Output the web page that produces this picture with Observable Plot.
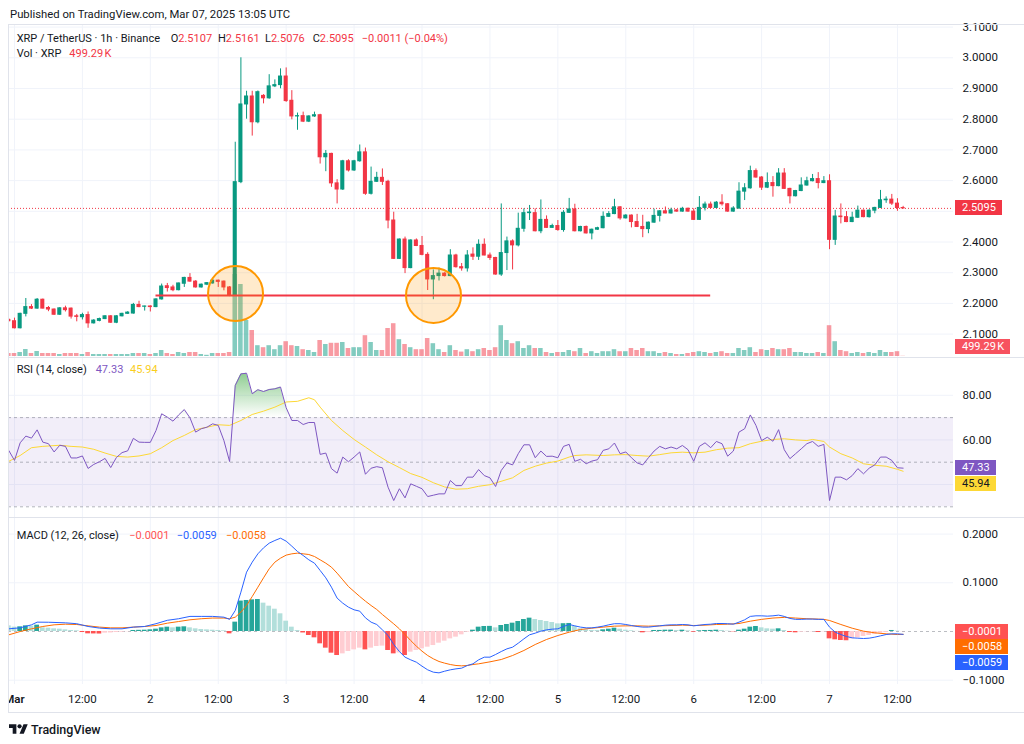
<!DOCTYPE html>
<html><head><meta charset="utf-8">
<script src="https://cdn.jsdelivr.net/npm/d3@7"></script>
<script src="https://cdn.jsdelivr.net/npm/@observablehq/plot@0.6"></script>
<style>
body{margin:0;background:#fff;}
#root{position:relative;width:1024px;height:744px;overflow:hidden;background:#fff;font-family:Roboto,"Noto Sans",sans-serif;color:#131722;}
.t{position:absolute;white-space:nowrap;font-size:11px;line-height:11px;}
.box{position:absolute;left:955px;height:15px;line-height:15px;font-size:11px;padding:0 6px 0 7px;color:#fff;white-space:nowrap;}
.ln{position:absolute;background:#E0E3EB;}
</style></head><body><div id="root"></div>
<script>
// ---------- DATA (hour 0 = Mar 1 2025 00:00 UTC, hourly candles XRP/USDT Binance) ----------
const firstHour = -1;
const opens = [
2.146,2.142,2.119,2.166,2.188,2.183,2.212,2.185,2.180,2.163,
2.184,2.183,2.158,2.155,2.162,2.135,2.143,2.149,2.158,2.137,
2.158,2.166,2.167,2.195,2.189,2.190,2.188,2.213,2.256,2.252,
2.243,2.264,2.283,2.271,2.252,2.261,2.265,2.274,2.271,2.252,
2.226,2.595,2.848,2.874,2.790,2.876,2.868,2.907,2.911,2.939,
2.860,2.809,2.810,2.792,2.809,2.813,2.676,2.687,2.591,2.571,
2.663,2.633,2.663,2.692,2.557,2.596,2.609,2.596,2.470,2.345,
2.408,2.315,2.405,2.387,2.358,2.278,2.289,2.297,2.289,2.356,
2.318,2.314,2.359,2.352,2.391,2.356,2.348,2.294,2.364,2.402,
2.389,2.443,2.494,2.494,2.435,2.472,2.446,2.452,2.439,2.495,
2.506,2.435,2.449,2.428,2.440,2.445,2.482,2.491,2.513,2.477,
2.486,2.465,2.449,2.442,2.463,2.485,2.500,2.493,2.503,2.499,
2.508,2.499,2.472,2.511,2.522,2.511,2.528,2.523,2.499,2.509,
2.564,2.575,2.631,2.610,2.577,2.592,2.582,2.623,2.573,2.549,
2.566,2.584,2.598,2.605,2.592,2.598,2.407,2.483,2.481,2.465,
2.479,2.502,2.481,2.502,2.511,2.536,2.538,2.525,2.5107];
const highs = [
2.150,2.152,2.168,2.216,2.196,2.216,2.214,2.190,2.182,2.186,
2.191,2.185,2.164,2.168,2.172,2.147,2.152,2.160,2.160,2.160,
2.168,2.173,2.200,2.207,2.191,2.192,2.215,2.263,2.265,2.259,
2.266,2.285,2.297,2.274,2.263,2.268,2.278,2.276,2.273,2.255,
2.725,3.000,2.891,2.891,2.892,2.880,2.945,2.928,2.964,2.967,
2.893,2.820,2.823,2.811,2.823,2.816,2.698,2.689,2.603,2.666,
2.668,2.666,2.716,2.706,2.644,2.627,2.638,2.601,2.497,2.410,
2.416,2.407,2.410,2.418,2.365,2.309,2.315,2.300,2.375,2.360,
2.330,2.372,2.381,2.407,2.410,2.364,2.350,2.524,2.416,2.407,
2.494,2.508,2.519,2.508,2.537,2.485,2.458,2.470,2.502,2.542,
2.523,2.451,2.452,2.442,2.448,2.498,2.499,2.539,2.515,2.489,
2.488,2.490,2.487,2.465,2.507,2.502,2.514,2.510,2.506,2.513,
2.511,2.508,2.548,2.530,2.530,2.532,2.554,2.525,2.515,2.593,
2.590,2.647,2.638,2.613,2.625,2.613,2.639,2.639,2.575,2.568,
2.609,2.611,2.620,2.626,2.613,2.619,2.503,2.524,2.499,2.497,
2.517,2.504,2.505,2.513,2.568,2.547,2.555,2.541,2.5161];
const lows = [
2.140,2.117,2.117,2.156,2.180,2.181,2.182,2.173,2.161,2.161,
2.172,2.149,2.140,2.146,2.119,2.133,2.140,2.147,2.135,2.134,
2.156,2.164,2.165,2.186,2.175,2.172,2.186,2.211,2.237,2.238,
2.241,2.252,2.269,2.250,2.250,2.258,2.263,2.252,2.241,2.222,
2.224,2.590,2.800,2.745,2.785,2.850,2.865,2.903,2.899,2.855,
2.798,2.764,2.789,2.789,2.806,2.654,2.629,2.578,2.524,2.568,
2.628,2.630,2.660,2.552,2.553,2.594,2.584,2.443,2.343,2.343,
2.297,2.313,2.385,2.355,2.242,2.212,2.273,2.286,2.287,2.315,
2.305,2.302,2.340,2.340,2.355,2.340,2.292,2.288,2.307,2.309,
2.384,2.432,2.470,2.433,2.427,2.444,2.444,2.435,2.432,2.493,
2.433,2.433,2.426,2.407,2.438,2.443,2.480,2.489,2.471,2.475,
2.446,2.447,2.414,2.427,2.461,2.465,2.492,2.491,2.497,2.497,
2.497,2.470,2.470,2.501,2.509,2.509,2.517,2.497,2.497,2.507,
2.535,2.572,2.608,2.568,2.574,2.546,2.580,2.571,2.524,2.547,
2.564,2.582,2.596,2.573,2.590,2.375,2.389,2.459,2.463,2.463,
2.477,2.479,2.478,2.492,2.509,2.526,2.519,2.500,2.5076];
const closes = [
2.142,2.119,2.166,2.188,2.183,2.212,2.183,2.180,2.163,2.184,
2.178,2.157,2.156,2.162,2.135,2.144,2.149,2.158,2.137,2.158,
2.166,2.170,2.195,2.188,2.190,2.188,2.213,2.255,2.250,2.243,
2.265,2.283,2.271,2.252,2.261,2.266,2.274,2.270,2.252,2.226,
2.595,2.848,2.874,2.790,2.888,2.868,2.907,2.911,2.939,2.859,
2.809,2.810,2.792,2.809,2.813,2.676,2.687,2.591,2.571,2.663,
2.633,2.663,2.692,2.557,2.596,2.609,2.596,2.470,2.345,2.408,
2.315,2.405,2.387,2.358,2.278,2.289,2.297,2.289,2.356,2.318,
2.314,2.356,2.352,2.391,2.356,2.348,2.294,2.364,2.402,2.389,
2.443,2.494,2.496,2.435,2.472,2.446,2.452,2.439,2.495,2.506,
2.435,2.449,2.428,2.440,2.445,2.482,2.491,2.513,2.477,2.486,
2.465,2.449,2.442,2.463,2.485,2.500,2.493,2.503,2.499,2.508,
2.499,2.472,2.511,2.522,2.511,2.528,2.523,2.499,2.509,2.564,
2.575,2.631,2.610,2.577,2.592,2.582,2.623,2.573,2.549,2.566,
2.584,2.598,2.605,2.592,2.598,2.407,2.483,2.481,2.465,2.479,
2.502,2.481,2.502,2.511,2.536,2.538,2.525,2.5107,2.5095];
// volume in millions of XRP
const volumes = [
7.5,7.5,10,17.5,7.5,12.5,7.5,7.5,7.5,5,
7.5,7.5,7.5,5,10,5,5,5,5,5,
5,5,7.5,7.5,7.5,5,7.5,15,7.5,5,
10,7.5,10,10,5,3,7.5,7.5,7.5,10,
205,180,90,65,27,22,27,17,27,37,
27,25,17,15,10,40,30,33,33,35,
20,22,22,52,35,15,15,70,82,42,
30,22,17,17,45,32,17,10,27,15,
11,17,12,17,20,15,22,77,40,32,
37,20,27,20,20,10,7.5,10,10,15,
12,20,7.5,12,7.5,12,12,17,12,12,
20,15,20,12,12,7.5,10,7.5,5,5,
7.5,10,12,10,7.5,10,12,7.5,7.5,20,
15,22,10,17,15,20,17,17,20,10,
10,7.5,7.5,10,7.5,77,37,15,12,7.5,
10,7.5,10,7.5,15,10,10,12,0.49929];
const rsiValues = [
55.2,50.8,58.7,61.7,60.8,64.5,59.0,58.3,54.6,57.6,
57.1,51.9,51.9,52.8,47.2,49.0,50.2,51.7,47.6,52.1,
54.3,55.1,60.7,59.0,58.9,58.9,64.2,71.7,70.2,68.4,
71.2,73.6,69.9,63.5,65.0,65.7,67.2,66.5,59.7,50.3,
84.4,89.6,89.9,80.7,82.5,81.7,82.6,82.9,83.7,74.4,
68.7,68.7,66.9,67.8,67.8,53.5,54.1,47.1,45.1,52.3,
50.2,52.3,54.6,44.6,47.3,48.0,47.5,38.8,32.8,38.1,
34.0,40.3,39.2,38.1,34.6,35.2,35.8,35.8,41.8,39.5,
39.5,43.3,43.3,46.7,44.0,43.0,39.1,46.3,49.7,48.8,
53.8,57.8,57.8,52.0,55.0,52.6,52.7,52.0,57.1,58.0,
50.4,51.3,49.3,50.5,51.1,55.3,56.0,58.6,53.8,54.6,
52.0,49.7,48.8,52.0,55.0,57.1,56.0,56.8,56.0,57.5,
55.6,50.4,57.1,58.7,56.5,59.3,58.3,52.7,55.0,63.5,
65.0,71.2,66.5,59.7,61.2,59.4,64.6,55.6,51.6,53.8,
56.0,58.3,59.3,57.1,58.0,32.8,43.3,43.3,42.1,44.0,
47.1,44.8,47.3,48.8,52.3,52.3,50.8,47.5,47.33];
const rsiMaHours = [-1,1,3,5,8,10,12,14,16,18,20,22,24,26,28,30,32,34,36,38,40,42,44,46,48,50,52,53,54,56,58,60,62,64,66,68,70,72,74,76,78,80,82,84,88,90,92,94,96,98,99,101,104,106,108,110,112,114,116,118,120,122,124,126,128,130,132,134,136,138,140,141,143,144,146,148,150,152,154,156,157];
const rsiMaValues = [50.4,53.0,56.5,57.1,57.6,57.1,56.8,55.8,54.1,52.6,52.3,52.8,53.8,56.5,59.7,62.0,64.6,65.7,66.8,66.5,68.7,71.4,72.9,74.7,77.0,77.3,78.9,78.0,74.7,68.7,64.2,60.2,56.8,53.3,50.2,47.6,44.9,43.2,40.8,38.9,37.9,38.1,39.2,39.9,43.0,46.3,48.2,49.6,50.5,52.3,53.0,53.3,53.0,53.3,53.4,53.0,52.7,53.4,54.2,54.5,54.2,54.5,55.6,56.3,56.5,58.3,59.4,60.2,60.5,60.0,59.7,60.2,59.3,56.8,53.8,51.9,49.3,48.6,48.2,46.8,45.94];
// null = not read at that hour (line joins the read points)
const macdValues = [
0.0055,null,0.0075,null,0.0137,0.0192,null,0.0190,null,null,
0.0178,null,0.0160,null,0.0103,null,0.0070,null,0.0055,null,
0.0055,null,0.0090,null,0.0103,null,0.0160,null,0.0230,null,
0.0262,null,0.0310,null,0.0310,null,0.0310,null,0.0294,0.0249,
0.0431,0.0808,0.1218,0.1424,0.1595,0.1718,0.1814,0.1869,0.1916,0.1855,
0.1752,0.1643,0.1561,0.1472,0.1403,0.1253,0.1102,0.0910,0.0685,0.0582,
0.0500,0.0445,0.0418,0.0281,0.0192,0.0144,0.0034,-0.0082,-0.0267,-0.0411,
-0.0527,-0.0582,-0.0630,-0.0712,-0.0787,-0.0835,-0.0849,-0.0815,-0.0787,-0.0767,
-0.0753,-0.0698,-0.0664,-0.0582,-0.0527,-0.0527,-0.0472,-0.0411,-0.0356,-0.0322,
-0.0240,-0.0151,-0.0068,-0.0034,0.0007,0.0034,0.0048,0.0055,0.0103,0.0144,
0.0116,0.0090,0.0075,0.0075,0.0090,0.0110,0.0137,0.0160,0.0160,0.0144,
0.0123,0.0103,0.0090,0.0090,0.0103,0.0116,0.0130,0.0137,0.0137,0.0144,
0.0137,0.0116,0.0130,0.0144,0.0150,0.0164,0.0164,0.0160,0.0150,0.0192,
0.0240,0.0310,0.0322,0.0322,0.0315,0.0322,0.0336,0.0310,0.0268,0.0249,
0.0249,0.0255,0.0255,0.0249,0.0249,0.0090,-0.0014,-0.0062,-0.0103,-0.0130,
-0.0137,-0.0144,-0.0137,-0.0116,-0.0089,-0.0062,-0.0048,-0.0048,-0.0059];
const signalValues = [
-0.0068,null,0.0000,null,0.0055,null,0.0103,null,0.0137,null,
0.0150,null,0.0144,null,0.0116,null,0.0090,null,0.0075,null,
0.0075,null,0.0090,null,0.0103,null,0.0123,null,0.0171,null,
0.0205,null,0.0240,null,0.0262,null,0.0276,null,0.0276,0.0262,
0.0294,0.0397,0.0534,0.0719,0.0910,0.1102,0.1287,0.1424,0.1506,0.1568,
0.1595,0.1609,0.1595,0.1581,0.1540,0.1472,0.1403,0.1321,0.1198,0.1061,
0.0924,0.0821,0.0719,0.0623,0.0534,0.0452,0.0349,0.0253,0.0157,0.0055,
-0.0062,-0.0185,-0.0301,-0.0404,-0.0493,-0.0561,-0.0616,-0.0650,-0.0678,-0.0698,
-0.0705,-0.0698,-0.0678,-0.0664,null,-0.0623,null,-0.0575,null,-0.0493,
null,-0.0390,null,-0.0267,null,-0.0164,null,-0.0082,null,-0.0014,
null,0.0041,null,0.0068,null,0.0090,null,0.0110,null,0.0116,
null,0.0116,null,0.0110,null,0.0116,null,0.0123,null,0.0130,
null,0.0123,null,0.0130,null,0.0144,null,0.0150,null,0.0164,
null,0.0212,null,0.0249,null,0.0276,null,0.0290,null,0.0276,
null,0.0262,null,0.0255,0.0249,0.0226,null,0.0144,null,0.0068,
null,0.0007,null,-0.0027,null,-0.0048,null,-0.0062,-0.0058];
const histValues = [
0.0116,0.0089,0.0096,0.0116,0.0110,0.0130,0.0075,0.0068,0.0055,0.0048,
0.0034,0.0021,0.0014,-0.0021,-0.0048,-0.0050,-0.0052,-0.0034,-0.0030,-0.0021,
-0.0014,-0.0005,0.0021,0.0024,0.0027,0.0034,0.0048,0.0075,0.0089,0.0075,
0.0089,0.0096,0.0075,0.0055,0.0041,0.0034,0.0027,0.0021,0.0014,-0.0048,
0.0192,0.0625,0.0637,0.0650,0.0657,0.0582,0.0520,0.0458,0.0363,0.0212,
0.0089,0.0020,-0.0030,-0.0082,-0.0130,-0.0253,-0.0342,-0.0445,-0.0493,-0.0459,
-0.0411,-0.0377,-0.0342,-0.0377,-0.0342,-0.0308,-0.0300,-0.0390,-0.0459,-0.0440,
-0.0493,-0.0424,-0.0390,-0.0356,-0.0322,-0.0288,-0.0240,-0.0199,-0.0151,-0.0116,
-0.0068,-0.0014,0.0027,0.0089,0.0103,0.0105,0.0075,0.0123,0.0144,0.0171,
0.0205,0.0246,0.0274,0.0246,0.0226,0.0205,0.0185,0.0157,0.0160,0.0165,
0.0103,0.0055,0.0034,0.0021,0.0020,0.0034,0.0048,0.0068,0.0048,0.0027,
0.0014,0.0003,-0.0027,-0.0021,0.0021,0.0022,0.0027,0.0028,0.0021,0.0027,
0.0014,-0.0014,0.0014,0.0021,0.0022,0.0027,0.0021,0.0007,-0.0007,0.0027,
0.0048,0.0089,0.0103,0.0075,0.0055,0.0048,0.0055,0.0021,-0.0021,-0.0027,
-0.0014,-0.0007,-0.0007,-0.0021,-0.0007,-0.0151,-0.0171,-0.0185,-0.0190,-0.0151,
-0.0130,-0.0103,-0.0082,-0.0062,-0.0034,-0.0021,0.0021,0.0007,-0.0001];
const xTickHours = [0,12,24,36,48,60,72,84,96,108,120,132,144,156];
const xTickLabels = ["Mar","12:00","2","12:00","3","12:00","4","12:00","5","12:00","6","12:00","7","12:00"];
const priceTicks = [2.1,2.2,2.3,2.4,2.5,2.6,2.7,2.8,2.9,3.0,3.1];
const priceTickLabels = [2.1,2.2,2.3,2.4,2.6,2.7,2.8,2.9,3.0,3.1]; // 2.5 hidden by last-price tag
const rsiTicks = [40,60,80];
const rsiTickLabels = [60,80];               // 40 hidden by MA tag
const rsiLevels = [30,50,70];
const macdTicks = [-0.1,0.1,0.2];
const macdZero = [0];
const levelLine = [{h1:25,h2:123,p:2.226}];
const markers = [{h:39.05,p:2.232},{h:74.03,p:2.226}];

// ---------- STYLE / LAYOUT ----------
const UP="#089981", DOWN="#F23645";
const VUP="rgba(8,153,129,0.5)", VDOWN="rgba(242,54,69,0.5)";
const GRID="#F0F3FA";
const FONT='Roboto, "Noto Sans", sans-serif';
const SVG_W=1016, AXIS_W=71, LEFT=8;
const xDomain=[-1.06,165.9];
const root=document.getElementById("root");
const NS="http://www.w3.org/2000/svg";

const candles=opens.map((o,i)=>({h:i+firstHour,o,hi:highs[i],lo:lows[i],c:closes[i],v:volumes[i]}));
const rsiData=rsiValues.map((v,i)=>({h:i+firstHour,v}));
const rsiMa=rsiMaHours.map((h,i)=>({h,v:rsiMaValues[i]}));
const macdData=macdValues.map((v,i)=>({h:i+firstHour,v})).filter(d=>d.v!==null);
const sigData=signalValues.map((v,i)=>({h:i+firstHour,v})).filter(d=>d.v!==null);
const histData=histValues.map((v,i)=>({h:i+firstHour,v,p:i>0?histValues[i-1]:v}));
const histColor=d=>d.v>=0?(d.v>d.p?"#26A69A":"#B2DFDB"):(d.v<d.p?"#FF5252":"#FFCDD2");
const lastClose=closes[closes.length-1];

const baseStyle={fontFamily:FONT,fontSize:"11.5px",color:"#131722",background:"transparent"};
function put(svg,top){svg.style.position="absolute";svg.style.left=LEFT+"px";svg.style.top=top+"px";svg.style.maxWidth="none";root.appendChild(svg);return svg;}
const fmtSigned=(d,n)=>(d<0?"\u2212":"")+Math.abs(d).toFixed(n);

// price pane: grid + axis
const PRICE_TOP=24, PRICE_H=333;
const priceDomain=[2.9-(PRICE_H-64)/307, 2.9+64/307];
const priceAxis=put(Plot.plot({
  width:SVG_W,height:PRICE_H,marginLeft:0,marginRight:AXIS_W,marginTop:0,marginBottom:0,
  style:{...baseStyle,overflow:"visible"},
  x:{domain:xDomain,axis:null},
  y:{domain:priceDomain,axis:"right",ticks:priceTickLabels,tickFormat:d=>d.toFixed(4),tickSize:0,tickPadding:9,label:null},
  marks:[Plot.ruleY(priceTicks,{stroke:GRID}),Plot.ruleX(xTickHours,{stroke:GRID})]
}),PRICE_TOP);

// volume overlay
const VOL_H=332;
const volPlot=put(Plot.plot({
  width:SVG_W,height:VOL_H,marginLeft:0,marginRight:AXIS_W,marginTop:0,marginBottom:0,
  style:baseStyle,
  x:{domain:xDomain,axis:null},
  y:{domain:[0,VOL_H*2.5],axis:null},
  marks:[Plot.rect(candles,{x1:d=>d.h-0.4,x2:d=>d.h+0.4,y1:0,y2:"v",fill:d=>d.c>=d.o?VUP:VDOWN})]
}),PRICE_TOP);

// candles + drawings
const pricePlot=put(Plot.plot({
  width:SVG_W,height:PRICE_H,marginLeft:0,marginRight:AXIS_W,marginTop:0,marginBottom:0,
  style:baseStyle,
  x:{domain:xDomain,axis:null},
  y:{domain:priceDomain,axis:null},
  marks:[
    Plot.ruleY([lastClose],{stroke:DOWN,strokeDasharray:"1,2",strokeWidth:1}),
    Plot.ruleX(candles,{x:"h",y1:"lo",y2:"hi",stroke:d=>d.c>=d.o?UP:DOWN,strokeWidth:1}),
    Plot.rect(candles,{x1:d=>d.h-0.36,x2:d=>d.h+0.36,y1:"o",y2:"c",fill:d=>d.c>=d.o?UP:DOWN,insetTop:-0.5,insetBottom:-0.5}),
    Plot.ruleY(levelLine,{y:"p",x1:"h1",x2:"h2",stroke:"#F23645",strokeWidth:2}),
    Plot.dot(markers,{x:"h",y:"p",r:27.5,fill:"#FF9800",fillOpacity:0.2,stroke:"#FF9800",strokeWidth:2})
  ]
}),PRICE_TOP);

// RSI pane
const RSI_TOP=358, RSI_H=160;
const rsiDomain=[50-(RSI_H-103.7)/2.23, 50+103.7/2.23];
const rsiPlot=put(Plot.plot({
  width:SVG_W,height:RSI_H,marginLeft:0,marginRight:AXIS_W,marginTop:0,marginBottom:0,
  style:baseStyle,
  x:{domain:xDomain,axis:null},
  y:{domain:rsiDomain,axis:"right",ticks:rsiTickLabels,tickFormat:d=>d.toFixed(2),tickSize:0,tickPadding:9,label:null},
  marks:[
    Plot.ruleY(rsiTicks,{stroke:GRID}),
    Plot.ruleX(xTickHours,{stroke:GRID}),
    Plot.rect([rsiLevels],{x1:xDomain[0],x2:xDomain[1],y1:d=>d[0],y2:d=>d[2],fill:"#7E57C2",fillOpacity:0.1}),
    Plot.ruleY(rsiLevels,{stroke:"#787B86",strokeOpacity:0.55,strokeDasharray:"3,3"}),
    Plot.area(rsiData,{x1:"h",y1:rsiLevels[2],y2:"v",fill:"#4CAF50",fillOpacity:0.5}),
    Plot.line(rsiMa,{x:"h",y:"v",stroke:"#FDD835",strokeWidth:1}),
    Plot.line(rsiData,{x:"h",y:"v",stroke:"#7E57C2",strokeWidth:1})
  ]
}),RSI_TOP);
{
  // overbought gradient fill: clipped to the zone above 70, fading towards the 70 line
  const ry=rsiPlot.scale("y");
  const y70=ry.apply(rsiLevels[2]), y100=ry.apply(100);
  const defs=document.createElementNS(NS,"defs");
  const grad=document.createElementNS(NS,"linearGradient");
  grad.setAttribute("id","obGrad");grad.setAttribute("gradientUnits","userSpaceOnUse");
  grad.setAttribute("x1","0");grad.setAttribute("x2","0");grad.setAttribute("y1",String(y100));grad.setAttribute("y2",String(y70));
  [["0","0.95"],["1","0"]].forEach(([o,a])=>{const s=document.createElementNS(NS,"stop");s.setAttribute("offset",o);s.setAttribute("stop-color","#4CAF50");s.setAttribute("stop-opacity",a);grad.appendChild(s);});
  const cp=document.createElementNS(NS,"clipPath");cp.setAttribute("id","obClip");
  const cr=document.createElementNS(NS,"rect");cr.setAttribute("x","-10");cr.setAttribute("y","-200");cr.setAttribute("width","2000");cr.setAttribute("height",String(y70+200));
  cp.appendChild(cr);defs.appendChild(grad);defs.appendChild(cp);
  rsiPlot.insertBefore(defs,rsiPlot.firstChild);
  const g=rsiPlot.querySelector('g[aria-label="area"]');
  if(g){
    g.setAttribute("clip-path","url(#obClip)");
    g.setAttribute("fill","url(#obGrad)");
    g.removeAttribute("fill-opacity");
    g.querySelectorAll("path").forEach(p=>{p.setAttribute("fill","url(#obGrad)");p.removeAttribute("fill-opacity");});
  }
}

// MACD pane + time axis
const MACD_TOP=518, MACD_H=166, TIME_H=28;
const macdDomain=[(113-MACD_H)/487, 113/487];
const macdPlot=put(Plot.plot({
  width:SVG_W,height:MACD_H+TIME_H,marginLeft:0,marginRight:AXIS_W,marginTop:0,marginBottom:TIME_H,
  style:baseStyle,
  x:{domain:xDomain,ticks:xTickHours,tickFormat:d=>xTickLabels[xTickHours.indexOf(d)],tickSize:0,tickPadding:10,label:null},
  y:{domain:macdDomain,axis:"right",ticks:macdTicks,tickFormat:d=>fmtSigned(d,4),tickSize:0,tickPadding:9,label:null},
  marks:[
    Plot.ruleY(macdTicks,{stroke:GRID}),
    Plot.ruleX(xTickHours,{stroke:GRID}),
    Plot.ruleY(macdZero,{stroke:"#787B86",strokeOpacity:0.5,strokeDasharray:"3,3"}),
    Plot.rect(histData,{x1:d=>d.h-0.42,x2:d=>d.h+0.42,y1:0,y2:"v",fill:histColor}),
    Plot.line(sigData,{x:"h",y:"v",stroke:"#FF6D00",strokeWidth:1}),
    Plot.line(macdData,{x:"h",y:"v",stroke:"#2962FF",strokeWidth:1})
  ]
}),MACD_TOP);
macdPlot.querySelectorAll("text").forEach(t=>{if(t.textContent==="Mar")t.setAttribute("font-weight","600");});

// frame lines
function line(l,t,w,h){const d=document.createElement("div");d.className="ln";Object.assign(d.style,{left:l+"px",top:t+"px",width:w+"px",height:h+"px"});root.appendChild(d);}
line(8,24,1016,1); line(8,24,1,689); line(8,712,1016,1); line(8,357,1016,1); line(8,517,1016,1);

// text helpers
function txt(x,cy,html,extra){const d=document.createElement("div");d.className="t";d.style.left=x+"px";d.style.top=(cy-5.5)+"px";d.innerHTML=html;if(extra)Object.assign(d.style,extra);root.appendChild(d);return d;}
const R='<span style="color:#F23645">';
txt(10,14,'Published on TradingView.com, Mar 07, 2025 13:05 UTC',{fontSize:"11.3px"});
txt(16.7,38.5,'XRP / TetherUS \u00b7 1h \u00b7 Binance');
txt(170.7,38.5,'O'+R+'2.5107</span>');
txt(218,38.5,'H'+R+'2.5161</span>');
txt(265,38.5,'L'+R+'2.5076</span>');
txt(312.7,38.5,'C'+R+'2.5095</span>');
txt(361.7,38.5,R+'\u22120.0011 (\u22120.04%)</span>');
txt(16.7,53.5,'Vol \u00b7 XRP');
txt(69.3,53.5,R+'499.29\u202fK</span>');
txt(16.7,369.5,'RSI (14, close)');
txt(95.7,369.5,'<span style="color:#7E57C2">47.33</span>');
txt(130,369.5,'<span style="color:#F9CE1D">45.94</span>');
txt(16.7,535.5,'MACD (12, 26, close)');
txt(129.3,535.5,'<span style="color:#FF5252">\u22120.0001</span>');
txt(176.7,535.5,'<span style="color:#2962FF">\u22120.0059</span>');
txt(226,535.5,'<span style="color:#FF6D00">\u22120.0058</span>');

// footer logo
const logo=document.createElement("div");
logo.style.cssText="position:absolute;left:9px;top:722px;width:20px;height:14px;";
logo.innerHTML='<svg width="19" height="15" viewBox="0 0 36 28"><path d="M14 22H7V11H0V4h14v18zM28 22h-8l7.5-18h8L28 22z" fill="#131722"/><circle cx="20" cy="8" r="4" fill="#131722"/></svg>';
root.appendChild(logo);
txt(31,729,'TradingView',{fontSize:"12.5px",lineHeight:"13px",top:"722.5px",fontWeight:"500"});

// axis value tags (positions from the plots' scales)
function labels(items,paneBottom){
  items.sort((a,b)=>a.y-b.y);
  let prev=-Infinity;
  for(const it of items){
    let c=Math.max(it.y,prev+15.5);
    c=Math.min(c,paneBottom-11);
    prev=c;
    const d=document.createElement("div");d.className="box";d.textContent=it.text;
    d.style.top=(c-7.5)+"px";d.style.background=it.bg;d.style.color=it.color||"#fff";root.appendChild(d);
  }
}
const py=pricePlot.scale("y"), vy=volPlot.scale("y"), rsy=rsiPlot.scale("y"), my=macdPlot.scale("y");
labels([{y:PRICE_TOP+py.apply(lastClose),text:lastClose.toFixed(4),bg:"#F23645"}],357);
labels([{y:PRICE_TOP+vy.apply(volumes[volumes.length-1]),text:"499.29\u202fK",bg:"#F7525F"}],357);
labels([
  {y:RSI_TOP+rsy.apply(rsiValues[rsiValues.length-1]),text:rsiValues[rsiValues.length-1].toFixed(2),bg:"#7E57C2"},
  {y:RSI_TOP+rsy.apply(rsiMaValues[rsiMaValues.length-1]),text:rsiMaValues[rsiMaValues.length-1].toFixed(2),bg:"#FDD835",color:"#131722"}
],517);
const lastH=histValues[histValues.length-1], lastM=macdValues[macdValues.length-1], lastS=signalValues[signalValues.length-1];
labels([
  {y:MACD_TOP+my.apply(lastH),text:fmtSigned(lastH,4),bg:"#FF5252"},
  {y:MACD_TOP+my.apply(lastS),text:fmtSigned(lastS,4),bg:"#FF6D00"},
  {y:MACD_TOP+my.apply(lastM),text:fmtSigned(lastM,4),bg:"#2962FF"}
],700);
</script></body></html>
